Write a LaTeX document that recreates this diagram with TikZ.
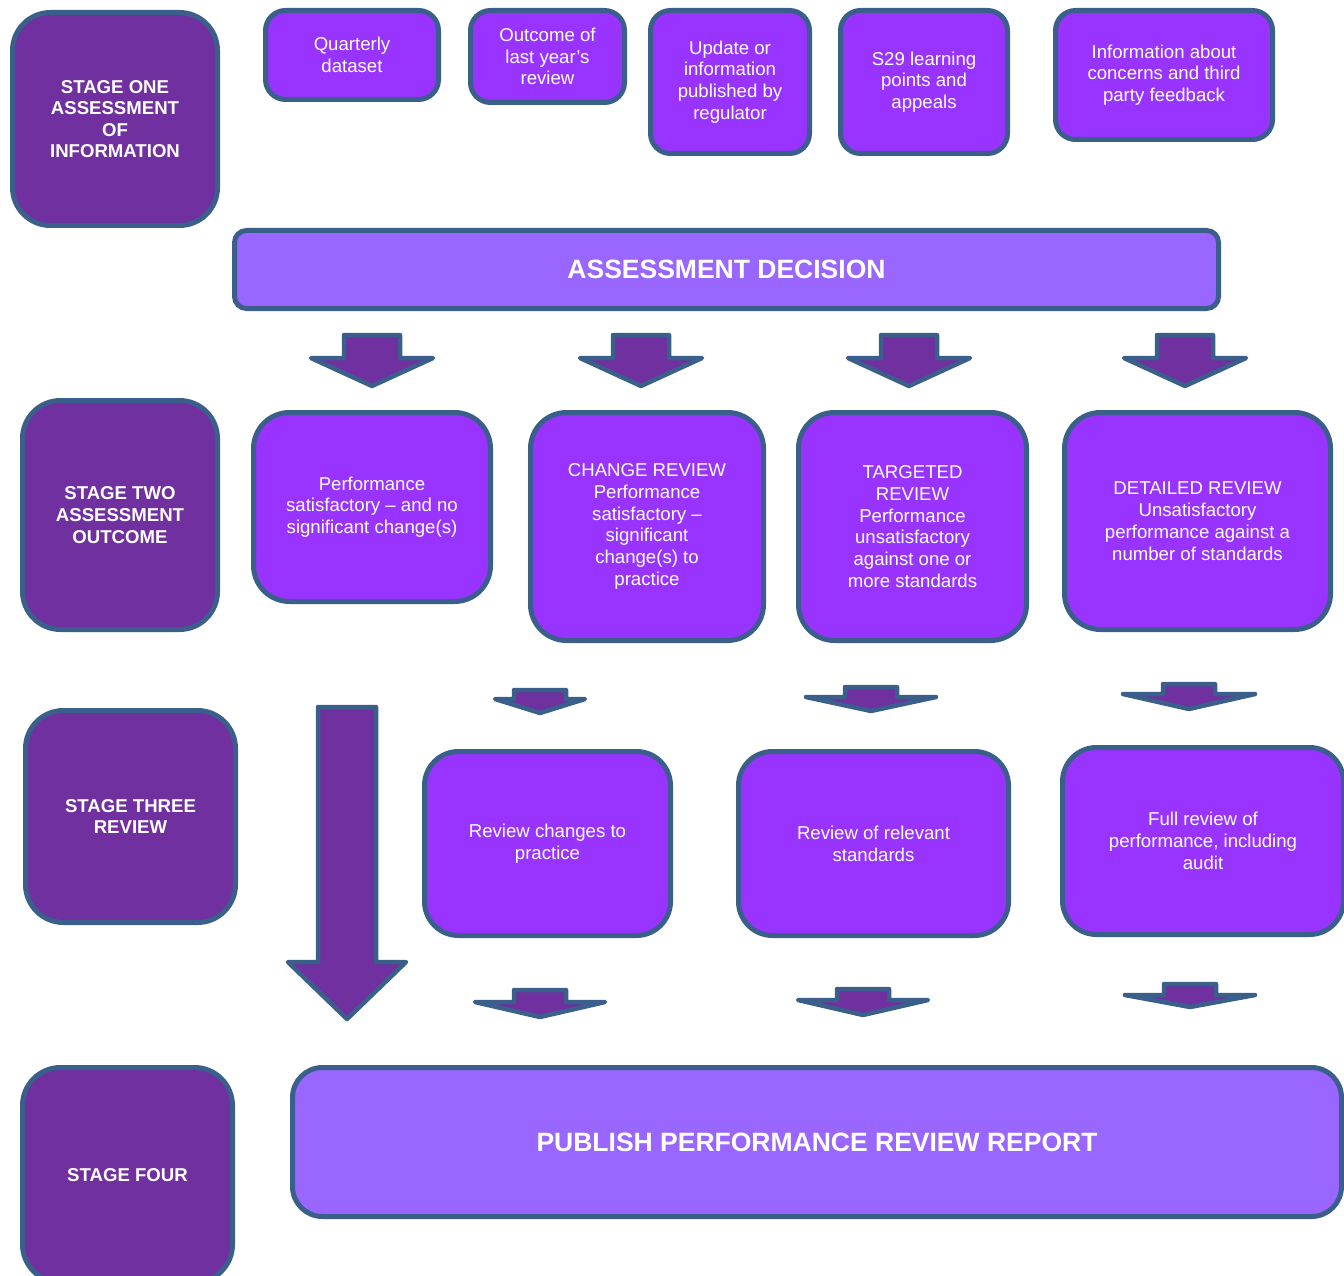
\documentclass[tikz,border=0pt]{standalone}
\usepackage{fontspec}
\setmainfont{Liberation Sans}
\usepackage{tikz}
\usepackage{xcolor}
\definecolor{stagepurple}{HTML}{7030A0}
\definecolor{boxpurple}{HTML}{9933FF}
\definecolor{barpurple}{HTML}{9966FF}
\definecolor{edgeblue}{HTML}{3A5F8B}

\begin{document}
\begin{tikzpicture}[x=1pt,y=-1pt,
  stagebox/.style={draw=edgeblue,line width=5pt,fill=stagepurple,text=white,align=center,rounded corners=38pt,font=\fontsize{18.6}{21.6}\selectfont\bfseries},
  infobox/.style={draw=edgeblue,line width=5pt,fill=boxpurple,text=white,align=center,rounded corners=20pt,font=\fontsize{18.6}{21.8}\selectfont},
  outcomebox/.style={infobox,rounded corners=36pt},
  barbox/.style={draw=edgeblue,line width=5pt,fill=barpurple,text=white,align=center,font=\fontsize{26.5}{30}\selectfont\bfseries},
  blockarrow/.style={draw=edgeblue,line width=4.5pt,fill=stagepurple,line join=round}]
\useasboundingbox (0,0) rectangle (1344,1276);
\clip (0,0) rectangle (1344,1276);
% stage labels
\node[stagebox,minimum width=205pt,minimum height=213pt] (stageone) at (115,119) {STAGE ONE\\ASSESSMENT\\OF\\INFORMATION};
\node[stagebox,minimum width=195pt,minimum height=229pt] (stagetwo) at (120,515) {STAGE TWO\\ASSESSMENT\\OUTCOME};
\node[stagebox,minimum width=210pt,minimum height=212pt] (stagethree) at (130.5,816.5) {STAGE THREE\\REVIEW};
\node[stagebox,minimum width=210pt,minimum height=215pt] (stagefour) at (127.5,1175) {STAGE FOUR};
% information sources
\node[infobox,minimum width=173pt,minimum height=89pt] (quarterly) at (352,55) {Quarterly\\dataset};
\node[infobox,minimum width=154pt,minimum height=92pt] (lastyear) at (547.5,56.5) {Outcome of\\last year’s\\review};
\node[infobox,minimum width=159pt,minimum height=143pt] (regulator) at (730,82) {Update or\\information\\published by\\regulator};
\node[infobox,minimum width=167pt,minimum height=143pt] (learning) at (924,82) {S29 learning\\points and\\appeals};
\node[infobox,minimum width=217pt,minimum height=129pt] (concerns) at (1164,75) {Information about\\concerns and third\\party feedback};
\node[barbox,rounded corners=12pt,minimum width=984pt,minimum height=78pt] (decision) at (726.5,269.5) {ASSESSMENT DECISION};
% outcomes
\draw[blockarrow] (344,335) -- (400,335) -- (400,358) -- (433,358) -- (372,386) -- (311,358) -- (344,358) -- cycle;
\draw[blockarrow] (613,335) -- (669,335) -- (669,358) -- (702,358) -- (641,386) -- (580,358) -- (613,358) -- cycle;
\draw[blockarrow] (881,335) -- (937,335) -- (937,358) -- (970,358) -- (909,386) -- (848,358) -- (881,358) -- cycle;
\draw[blockarrow] (1157,335) -- (1213,335) -- (1213,358) -- (1246,358) -- (1185,386) -- (1124,358) -- (1157,358) -- cycle;
\node[outcomebox,minimum width=237pt,minimum height=189pt] (satisfactory) at (372,507) {Performance\\satisfactory – and no\\significant change(s)};
\node[outcomebox,minimum width=233pt,minimum height=228pt] (change) at (647,526.5) {CHANGE REVIEW\\Performance\\satisfactory –\\significant\\change(s) to\\practice};
\node[outcomebox,minimum width=228pt,minimum height=228pt] (targeted) at (912.5,526.5) {TARGETED\\REVIEW\\Performance\\unsatisfactory\\against one or\\more standards};
\node[outcomebox,minimum width=266pt,minimum height=217pt] (detailed) at (1197.5,521) {DETAILED REVIEW\\Unsatisfactory\\performance against a\\number of standards};
% reviews
\draw[blockarrow] (514,690) -- (566,690) -- (566,699) -- (585,699) -- (540,713) -- (495,699) -- (514,699) -- cycle;
\draw[blockarrow] (845,687) -- (897,687) -- (897,697) -- (936,697) -- (871,711) -- (806,697) -- (845,697) -- cycle;
\draw[blockarrow] (1163,684) -- (1215,684) -- (1215,694) -- (1255,694) -- (1189,709) -- (1123,694) -- (1163,694) -- cycle;
\draw[blockarrow] (318,707) -- (376,707) -- (376,962) -- (406,962) -- (347,1019) -- (288,962) -- (318,962) -- cycle;
\node[outcomebox,rounded corners=34pt,minimum width=246pt,minimum height=184pt] (reviewchanges) at (547.5,843.5) {Review changes to\\practice};
\node[outcomebox,rounded corners=34pt,minimum width=270pt,minimum height=184pt] (relevant) at (873.5,843.5) {Review of relevant\\standards};
\node[outcomebox,rounded corners=34pt,minimum width=281pt,minimum height=187pt] (fullreview) at (1203,841) {Full review of\\performance, including\\audit};
% report
\draw[blockarrow] (514,990) -- (566,990) -- (566,1002) -- (605,1002) -- (540,1017) -- (475,1002) -- (514,1002) -- cycle;
\draw[blockarrow] (837,989) -- (889,989) -- (889,1000) -- (928,1000) -- (863,1015) -- (798,1000) -- (837,1000) -- cycle;
\draw[blockarrow] (1164,984) -- (1216,984) -- (1216,995) -- (1255,995) -- (1190,1007) -- (1125,995) -- (1164,995) -- cycle;
\node[barbox,rounded corners=30pt,minimum width=1049pt,minimum height=149pt] (publish) at (817,1142) {PUBLISH PERFORMANCE REVIEW REPORT};
\end{tikzpicture}
\end{document}
